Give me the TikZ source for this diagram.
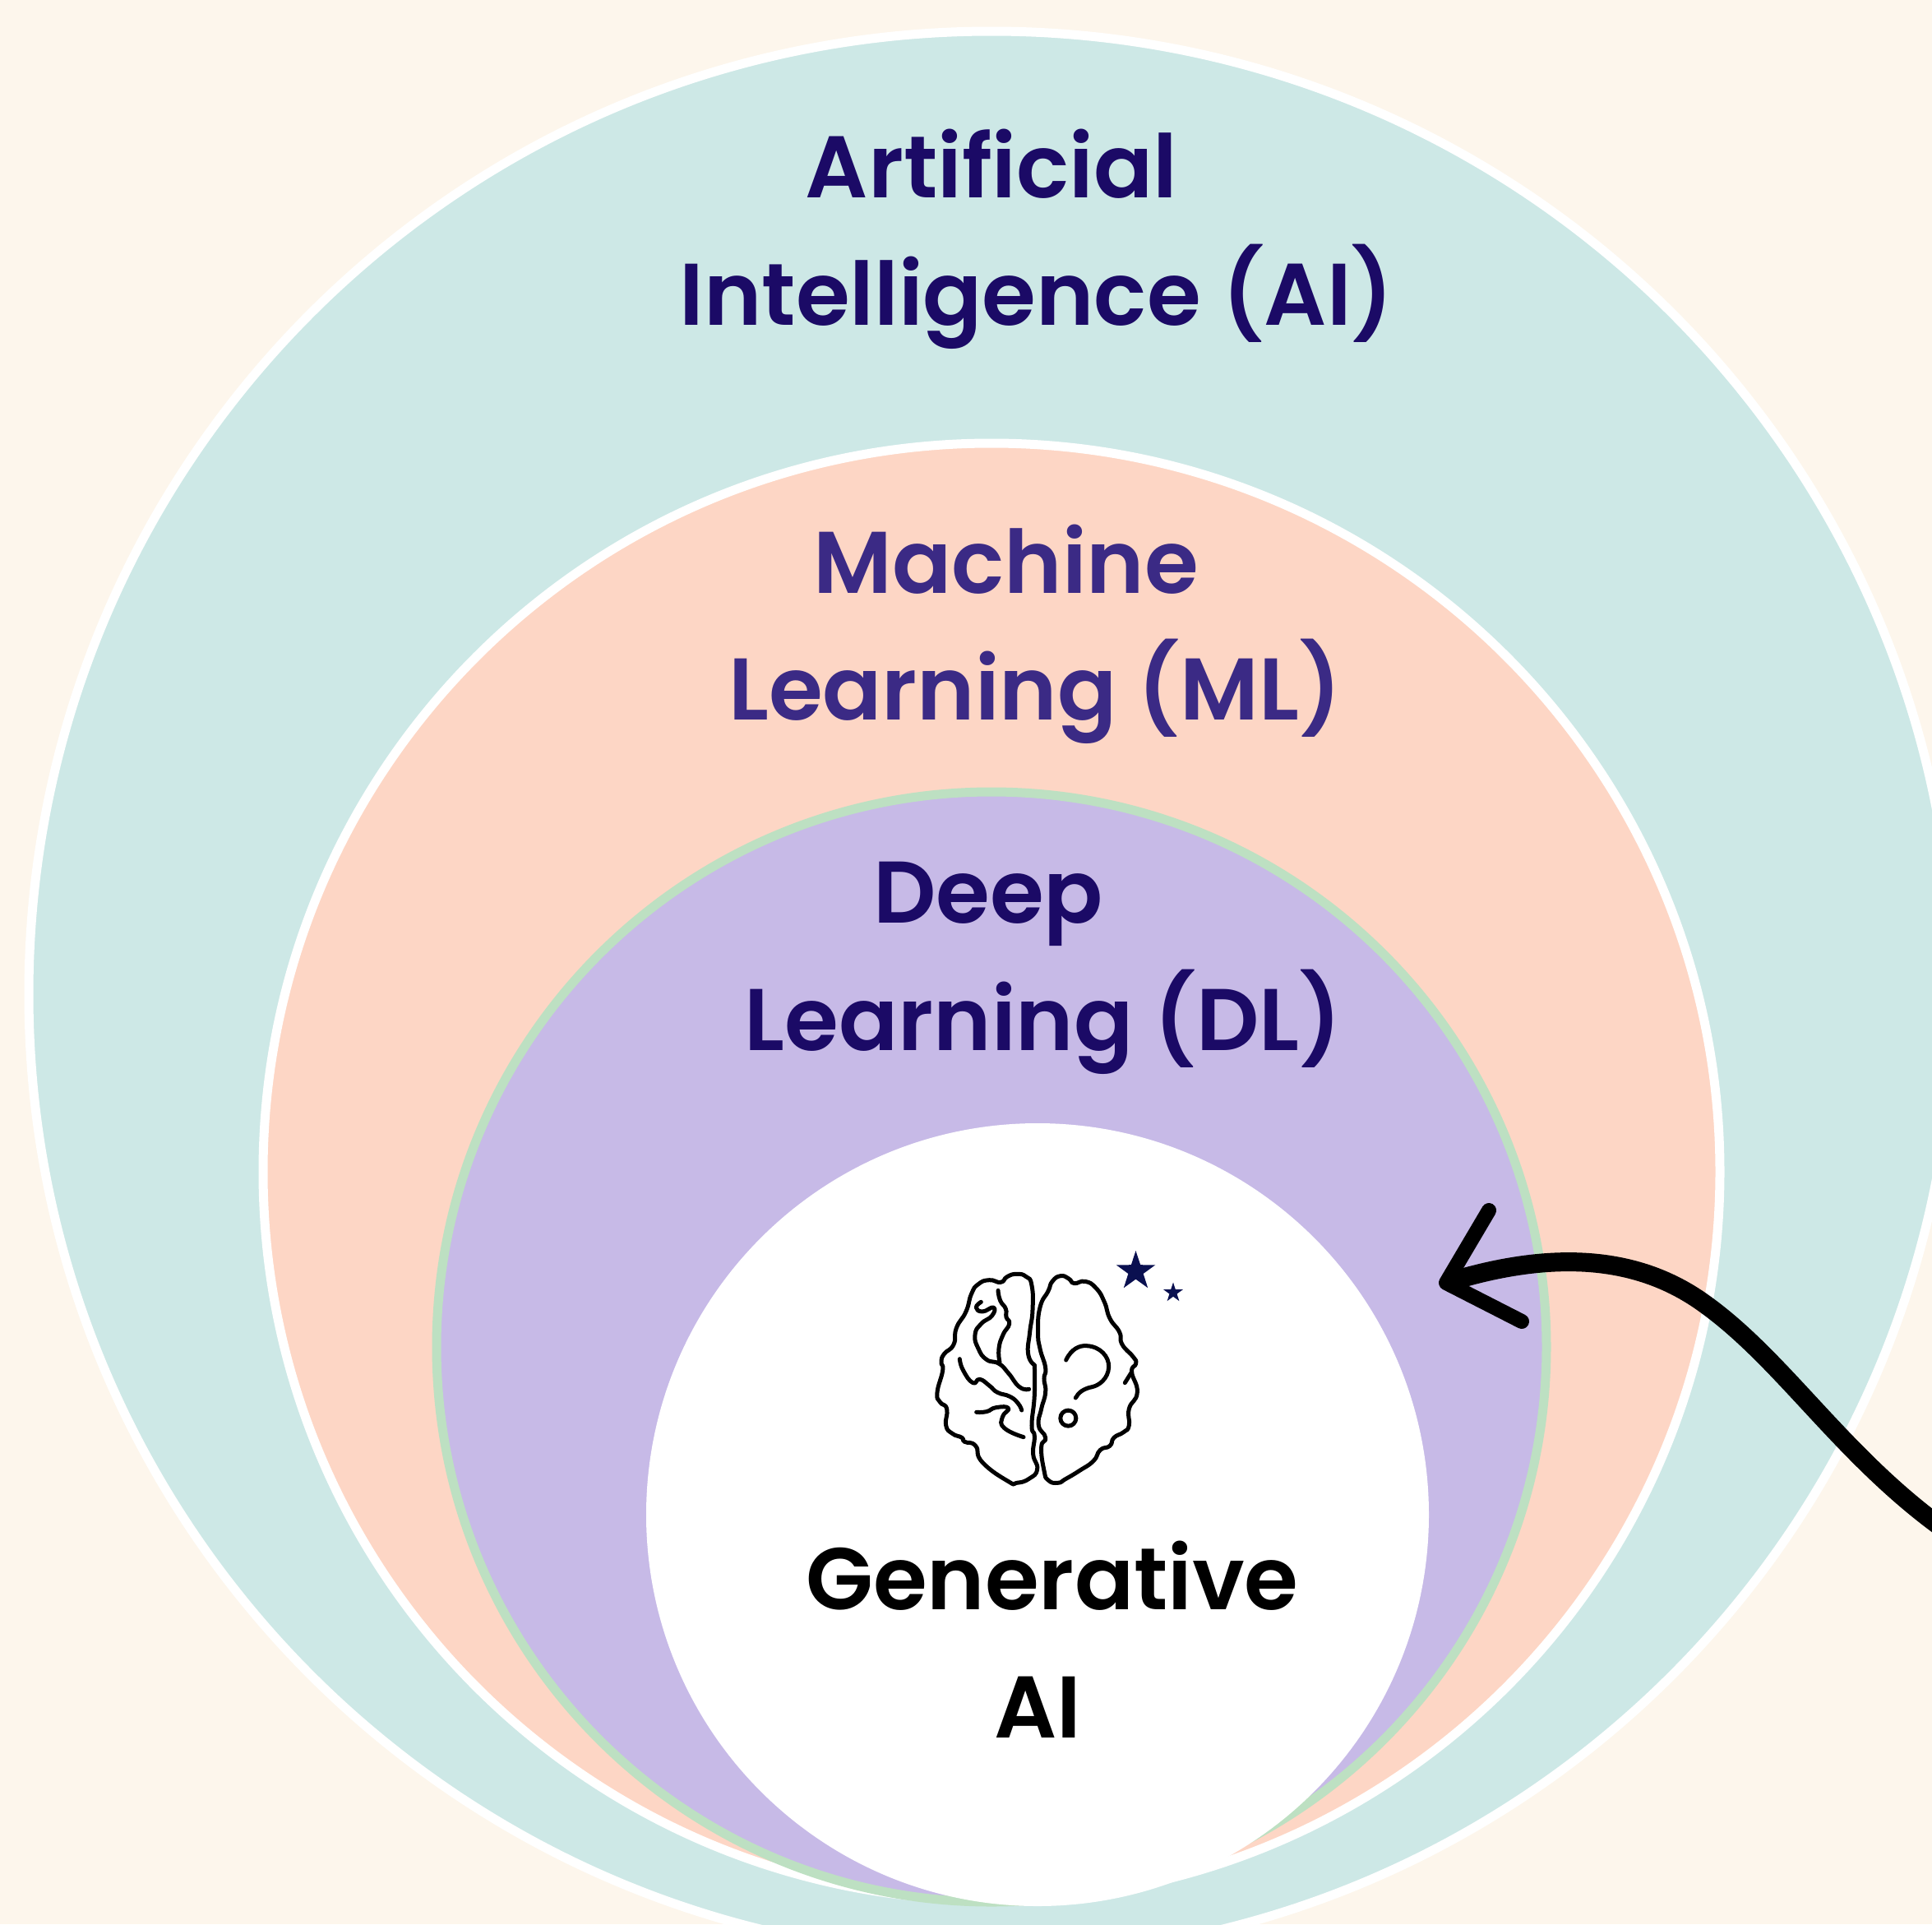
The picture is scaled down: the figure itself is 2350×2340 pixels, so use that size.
\documentclass[tikz,border=0pt]{standalone}
\usepackage{fontspec}
\usetikzlibrary{shapes.geometric}
\newfontfamily\pop{Poppins SemiBold}
\definecolor{bgc}{HTML}{FDF6EC}
\definecolor{tealc}{HTML}{CDE8E6}
\definecolor{peachc}{HTML}{FDD6C5}
\definecolor{purc}{HTML}{C7BAE7}
\definecolor{grnc}{HTML}{BDE0C2}
\definecolor{navyc}{HTML}{1B0A66}
\definecolor{midc}{HTML}{3B2A85}
\definecolor{starc}{HTML}{0A1050}
\tikzset{
  ring/.style={line width=11pt},
  lbl/.style={font=\pop\fontsize{106.5}{106.5}\selectfont, inner sep=0pt, anchor=base},
  brainline/.style={line width=5pt, line cap=round, line join=round, black},
  starmark/.style={star, star points=5, star point ratio=2.6, fill=starc, inner sep=0pt},
  shaft/.style={line width=23pt, black},
  headline/.style={line width=18pt, line cap=round, line join=round, black}
}
\begin{document}
\begin{tikzpicture}[x=1pt,y=-1pt]
\useasboundingbox (0,0) rectangle (2350,2340);
\clip (0,0) rectangle (2350,2340);
\fill[bgc] (0,0) rectangle (2350,2340);
\draw[ring,fill=tealc,draw=white] (1206,1209) circle[radius=1171pt];
\draw[ring,fill=peachc,draw=white] (1206,1425) circle[radius=886pt];
\draw[ring,fill=purc,draw=grnc] (1206,1638) circle[radius=675pt];
\fill[white] (1262,1842) circle[radius=476pt];
\node[lbl,text=navyc] (ai1) at (1206,240) {Artificial};
\node[lbl,text=navyc] (ai2) at (1261,395) {Intelligence (AI)};
\node[lbl,text=midc] (ml1) at (1224,721) {Machine};
\node[lbl,text=midc] (ml2) at (1259,875) {Learning (ML)};
\node[lbl,text=navyc] (dl1) at (1202,1122) {Deep};
\node[lbl,text=navyc] (dl2) at (1269,1277) {Learning (DL)};
\node[lbl,text=black] (ga1) at (1280,1957) {Generative};
\node[lbl,text=black] (ga2) at (1262,2113) {AI};
\begin{scope}[shift={(1080,1480)},x=0.3333pt,y=-0.3333pt]
\draw[brainline] plot[smooth,tension=0.9] coordinates {(535,540)(512,500)(518,420)(528,340)(525,250)(505,218)(470,208)(435,218)(412,238)(370,230)(330,245)(305,280)(285,345)(250,405)(240,465)(205,500)(195,530)(200,560)(180,640)(190,675)(215,700)(212,760)(235,790)(270,805)(280,820)(320,835)(345,895)(440,965)(470,970)(515,955)(545,920)(530,865)(535,800)(525,760)(535,650)(535,540)};
\draw[brainline] plot[smooth cycle,tension=0.9] coordinates {(575,550)(555,480)(548,420)(555,330)(585,270)(600,235)(630,215)(660,225)(680,242)(720,235)(760,260)(790,310)(810,370)(845,420)(855,465)(895,510)(905,535)(890,565)(910,640)(880,700)(880,760)(860,785)(825,805)(810,835)(775,850)(750,890)(700,925)(650,955)(620,970)(585,960)(570,925)(560,840)(575,805)(550,760)(560,700)(575,640)(570,590)};
\draw[brainline] (890,565) -- (865,605);
\draw[brainline] (650,522) .. controls (670,480) and (700,468) .. (725,470) .. controls (775,472) and (808,510) .. (806,548) .. controls (804,590) and (770,615) .. (745,620) .. controls (715,626) and (695,640) .. (685,660);
\draw[brainline] (658,734) circle[radius=9.5pt];
\draw[brainline] plot[smooth,tension=0.9] coordinates {(340,310)(322,330)(345,345)(385,330)(380,360)(340,390)(318,430)(330,480)(360,520)(405,535)(440,570)(480,620)(515,628)};
\draw[brainline] plot[smooth,tension=0.9] coordinates {(402,268)(410,305)(430,335)(432,365)(443,390)(420,430)(405,480)(408,530)};
\draw[brainline] plot[smooth,tension=0.9] coordinates {(262,518)(275,560)(310,605)(335,592)(370,615)(400,640)(445,655)(475,680)(488,705)};
\draw[brainline] plot[smooth,tension=0.9] coordinates {(323,712)(360,710)(395,695)(440,698)(418,730)(425,770)(495,803)};
\end{scope}
\node[starmark,minimum size=50pt] (s1) at (1381.5,1546) {};
\node[starmark,minimum size=25pt] (s2) at (1427,1572) {};
\coordinate (tip) at (1759,1560);
\coordinate (hu) at (1811,1472);
\coordinate (hd) at (1851,1607);
\coordinate (tail) at (2365,1860);
\draw[shaft] (tail) .. controls (2240,1770) and (2170,1655) .. (2074,1586) .. controls (2000,1532) and (1900,1516) .. (tip);
\draw[headline] (hu) -- (tip) -- (hd);
\end{tikzpicture}
\end{document}
